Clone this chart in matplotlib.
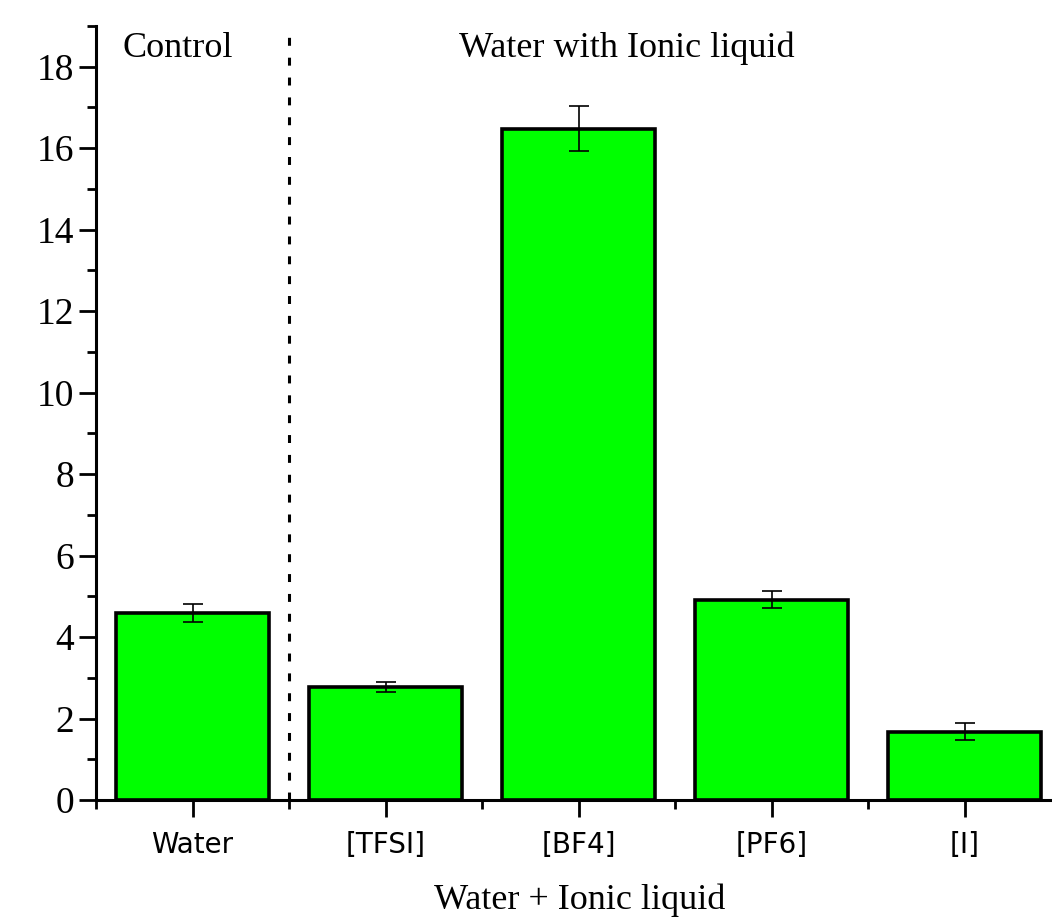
# -*- coding: utf-8 -*-
import matplotlib
matplotlib.use('Agg')
import matplotlib.pyplot as plt
from matplotlib.ticker import MultipleLocator, FixedLocator


# %% data ---------------------------------------------------------------------
categories = ['Water', '[TFSI]', '[BF4]', '[PF6]', '[I]']
values = [4.60, 2.78, 16.48, 4.92, 1.68]
errors = [0.22, 0.12, 0.56, 0.21, 0.20]

group_labels = ['Control', 'Water with Ionic liquid']
x_label = 'Water + Ionic liquid'


# %% figure -------------------------------------------------------------------
serif = ['Liberation Serif', 'DejaVu Serif']
sans = ['DejaVu Sans']

fig = plt.figure(figsize=(10.52, 9.21), dpi=100)
ax = fig.add_axes([96 / 1052, 1 - 800 / 921, (1061 - 96) / 1052, (800 - 26) / 921])

x = list(range(len(categories)))
ax.bar(x, values, width=0.79, color='#00ff00', edgecolor='black',
       linewidth=2.6, zorder=2)
ax.errorbar(x, values, yerr=errors, fmt='none', ecolor='black',
            elinewidth=1.2, capsize=7, capthick=1.2, zorder=3)

# separator between control and ionic liquids
ax.axvline(0.5, color='black', lw=2.2, ls=(0, (2.6, 3.9)), zorder=1)

ax.text(-0.365, 18.45, group_labels[0], ha='left', va='center',
        fontsize=26, family=serif)
ax.text(2.25, 18.45, group_labels[1], ha='center', va='center',
        fontsize=26, family=serif)

#------------------
ax.set_xlim(-0.5, 4.5)
ax.set_ylim(0, 19)

for s in ['top', 'right']:
    ax.spines[s].set_visible(False)
for s in ['left', 'bottom']:
    ax.spines[s].set_linewidth(2.2)

ax.set_xticks(x)
ax.set_xticklabels(categories, family=sans, fontsize=20)
ax.xaxis.set_minor_locator(FixedLocator([i - 0.5 for i in range(len(categories) + 1)]))
ax.yaxis.set_major_locator(MultipleLocator(2))
ax.yaxis.set_minor_locator(MultipleLocator(1))
for lbl in ax.get_yticklabels():
    lbl.set_family(serif)
    lbl.set_fontsize(27)

ax.tick_params(which='major', direction='out', length=12, width=2.0)
ax.tick_params(which='minor', direction='out', length=6.5, width=2.0)
ax.tick_params(axis='x', which='major', pad=10)
ax.tick_params(axis='y', which='major', pad=4)

ax.set_xlabel(x_label, family=serif, fontsize=26, va='center')
ax.xaxis.set_label_coords((580 - 96) / (1061 - 96), -(900 - 800) / 774)

plt.savefig('out.png', dpi=100)
